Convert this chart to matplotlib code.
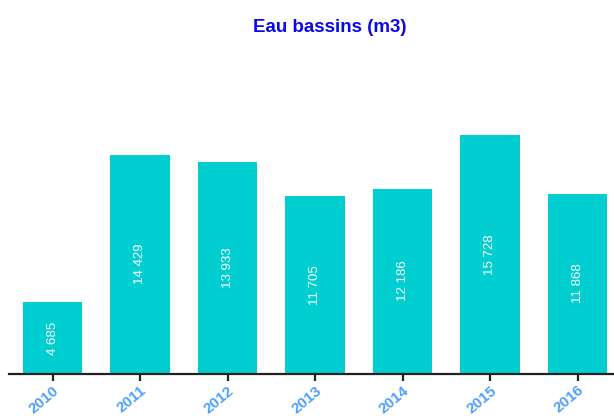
import matplotlib
matplotlib.use("Agg")
import matplotlib.pyplot as plt

years = ["2010", "2011", "2012", "2013", "2014", "2015", "2016"]
values = [4685, 14429, 13933, 11705, 12186, 15728, 11868]
title = "Eau bassins (m3)"

W, H = 614, 416
fig = plt.figure(figsize=(W / 100, H / 100), dpi=100)
plt.rcParams['font.family'] = ['Liberation Sans', 'DejaVu Sans']

left_px, right_px = 8.6, 614
bottom_px = 373.5
top_px = 70.0
ax = fig.add_axes([left_px / W, (H - bottom_px) / H, (right_px - left_px) / W, (bottom_px - top_px) / H])

x = list(range(len(years)))
bars = ax.bar(x, values, width=0.68, color="#00CED1")
ax.set_xlim(-0.503, 6.417)
ymax = (bottom_px - top_px) * (15728 / (bottom_px - 135))
ax.set_ylim(0, ymax)

for xi, v in zip(x, values):
    ax.text(xi, v / 2, f"{v:,}".replace(",", " "), rotation=90, ha="center", va="center",
            color="white", fontsize=9.5)

for s in ["top", "right", "left"]:
    ax.spines[s].set_visible(False)
ax.spines["bottom"].set_linewidth(1.6)
ax.spines["bottom"].set_color("#222222")
ax.set_yticks([])
ax.set_xticks(x)
ax.set_xticklabels(years, rotation=40, ha="right", rotation_mode="anchor",
                   color="#4d9fff", fontsize=11, fontweight="bold")
ax.tick_params(axis="x", length=5, width=1.6, color="#222222", pad=2)

fig.text(330 / W, 1 - 28 / H, title, ha="center", va="center", color="#0a0ae6",
         fontsize=13.5, fontweight="bold")

fig.savefig("out.png", dpi=100)
